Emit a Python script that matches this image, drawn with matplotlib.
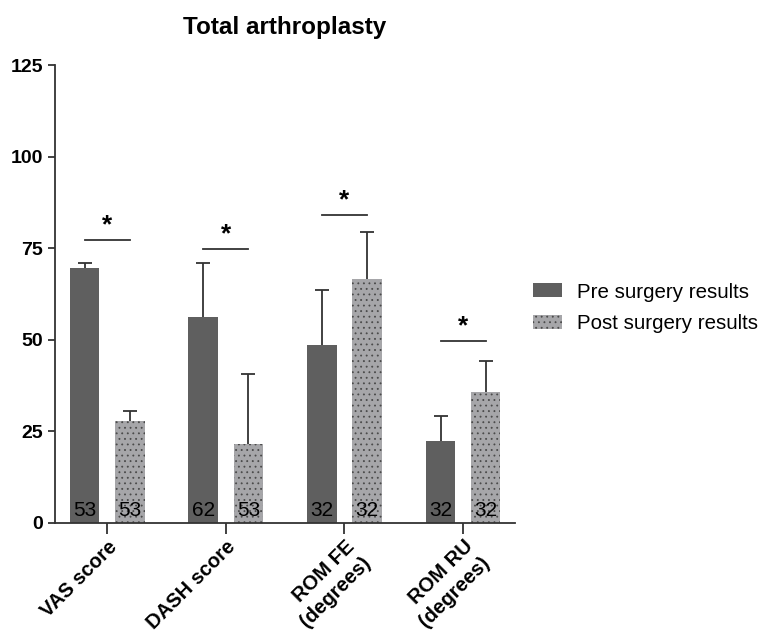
import numpy as np
import matplotlib
matplotlib.use('Agg')
import matplotlib.pyplot as plt

plt.rcParams['font.family'] = ['Liberation Sans', 'DejaVu Sans']
plt.rcParams['hatch.linewidth'] = 0.6

# outcome measures, mean values and upper SD
categories = ['VAS score', 'DASH score', 'ROM FE\n(degrees)', 'ROM RU\n(degrees)']
pre_mean = [69.6, 56.3, 48.5, 22.3]
pre_sd = [1.4, 14.7, 15.1, 7.0]
post_mean = [27.9, 21.5, 66.5, 35.8]
post_sd = [2.7, 19.1, 13.0, 8.4]
pre_n = [53, 62, 32, 32]
post_n = [53, 53, 32, 32]
# height of the significance bar for each group
sig_y = [77.2, 74.7, 84.1, 49.7]

x = np.arange(len(categories))
off = 0.19
w = 0.25

fig = plt.figure(figsize=(7.71, 6.35), dpi=100)
ax = fig.add_axes([0.0713, 0.1764, 0.597, 0.7212])

ax.bar(x - off, pre_mean, w, color='#5f5f5f', label='Pre surgery results')
ax.bar(x + off, post_mean, w, facecolor='#a6a6a9', hatch='...', edgecolor='#4a4a4a',
       linewidth=0, label='Post surgery results')

# one-sided error bars (upper part only)
for xs, m, sd in [(x - off, pre_mean, pre_sd), (x + off, post_mean, post_sd)]:
    eb = ax.errorbar(xs, m, yerr=[np.zeros(4), sd], fmt='none',
                     ecolor='#333333', elinewidth=1.3, capsize=5, capthick=1.3)
    eb[1][0].set_visible(False)

for i in range(len(categories)):
    ax.text(x[i] - off, 0.8, str(pre_n[i]), ha='center', va='bottom', fontsize=15)
    ax.text(x[i] + off, 0.8, str(post_n[i]), ha='center', va='bottom', fontsize=15)
    ax.plot([x[i] - off, x[i] + off], [sig_y[i], sig_y[i]], color='#333333', lw=1.3)
    ax.text(x[i], sig_y[i] + 0.8, '*', ha='center', va='bottom', fontsize=19,
            fontweight='bold')

ax.set_xlim(-0.44, 3.44)
ax.set_ylim(0, 125)
ax.set_yticks([0, 25, 50, 75, 100, 125])
ax.set_xticks(x)
ax.set_xticklabels(categories, rotation=45, ha='right', rotation_mode='anchor',
                   fontweight='bold', fontsize=14.5, multialignment='right',
                   linespacing=1.3)
for lbl in ax.get_yticklabels():
    lbl.set_fontweight('bold')
    lbl.set_fontsize(14)
ax.tick_params(axis='y', length=5, width=1.3, color='#333333')
ax.tick_params(axis='x', length=8, width=1.3, color='#333333', pad=2)

for s in ['top', 'right']:
    ax.spines[s].set_visible(False)
for s in ['left', 'bottom']:
    ax.spines[s].set_linewidth(1.3)
    ax.spines[s].set_color('#333333')

ax.set_title('Total arthroplasty', fontsize=17.5, fontweight='bold', pad=22)

ax.legend(loc='center left', bbox_to_anchor=(1.039, 0.47), frameon=False,
          fontsize=14.8, handlelength=1.4, handleheight=0.68, labelspacing=0.6,
          borderpad=0, borderaxespad=0, handletextpad=0.75)

fig.savefig('out.png', dpi=100)
